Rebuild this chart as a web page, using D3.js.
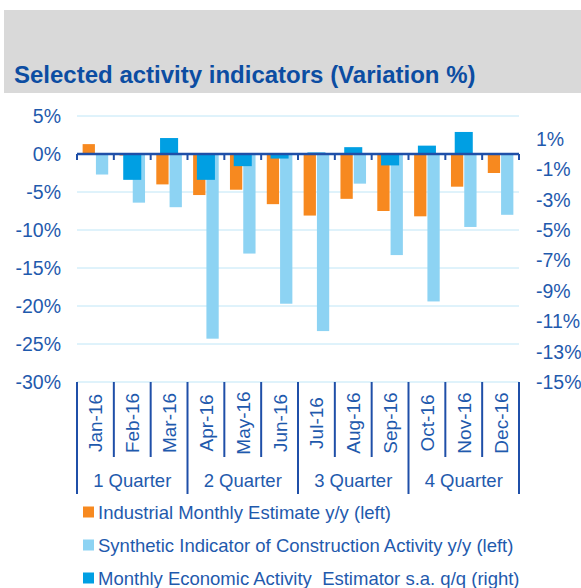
<!DOCTYPE html>
<html>
<head>
<meta charset="UTF-8">
<style>
  body { margin: 0; background: #fff; }
  text { font-family: "Liberation Sans", Arial, sans-serif; fill: #1f5aad; white-space: pre; }
</style>
</head>
<body>
<svg></svg>
<script src="https://d3js.org/d3.v7.min.js"></script>
<script>
let width = 581, height = 588;

// data
const months = ["Jan-16","Feb-16","Mar-16","Apr-16","May-16","Jun-16","Jul-16","Aug-16","Sep-16","Oct-16","Nov-16","Dec-16"];
const quarters = ["1 Quarter","2 Quarter","3 Quarter","4 Quarter"];
const industrial = [1.3, -0.2, -4.0, -5.4, -4.7, -6.6, -8.1, -5.9, -7.5, -8.2, -4.3, -2.5];
const construction = [-2.7, -6.4, -7.0, -24.3, -13.1, -19.7, -23.3, -3.9, -13.3, -19.4, -9.6, -8.0];
const igae = [null, -1.7, 1.05, -1.7, -0.8, -0.3, 0.1, 0.45, -0.75, 0.55, 1.45, null];
const leftTicks = [5, 0, -5, -10, -15, -20, -25, -30];
const rightTicks = [1, -1, -3, -5, -7, -9, -11, -13, -15];
const legendNames = ["Industrial Monthly Estimate y/y (left)",
  "Synthetic Indicator of Construction Activity y/y (left)",
  "Monthly Economic Activity  Estimator s.a. q/q (right)"];

const cOrange = "#f7891f", cLight = "#8dd3f3", cDark = "#009fe3", cAxis = "#1f4fa8";

let svg = d3.select("svg").attr("width", width).attr("height", height);

// title band
svg.append("rect").attr("x", 4).attr("y", 10).attr("width", width - 4).attr("height", 83).attr("fill", "#d9d9d9");
svg.append("text").attr("x", 14).attr("y", 83)
  .style("font-size", "24px").style("font-weight", "bold").style("fill", "#0c4da2")
  .text("Selected activity indicators (Variation %)");

let x = d3.scaleBand().domain(months).range([77, 519]).padding(0);
let x1 = d3.scaleBand().domain(["ind", "con"]).range([0, x.bandwidth()]).paddingOuter(0.44);
let y = d3.scaleLinear().domain([-30, 5]).range([382, 116]);
let y2 = d3.scaleLinear().domain([-15, 2.5]).range([382, 116]);

// gridlines
svg.append("g").selectAll("line").data(leftTicks).enter().append("line")
  .attr("x1", 77).attr("x2", 519)
  .attr("y1", d => y(d)).attr("y2", d => y(d))
  .attr("stroke", "#bfe6f7").attr("stroke-width", 1);

// axis labels
svg.append("g").selectAll("text").data(leftTicks).enter().append("text")
  .attr("x", 61).attr("y", d => y(d) + 7)
  .attr("text-anchor", "end").style("font-size", "19.5px")
  .text(d => d + "%");
svg.append("g").selectAll("text").data(rightTicks).enter().append("text")
  .attr("x", 536).attr("y", d => y2(d) + 7)
  .style("font-size", "19.5px")
  .text(d => d + "%");

// primary bars
let bars = svg.append("g");
bars.selectAll(".ind").data(industrial).enter().append("rect")
  .attr("x", (d, i) => x(months[i]) + x1("ind"))
  .attr("width", x1.bandwidth() - 0.5)
  .attr("y", d => y(Math.max(0, d)))
  .attr("height", d => Math.abs(y(d) - y(0)))
  .attr("fill", cOrange);
bars.selectAll(".con").data(construction).enter().append("rect")
  .attr("x", (d, i) => x(months[i]) + x1("con") + 0.5)
  .attr("width", x1.bandwidth() - 0.5)
  .attr("y", d => y(Math.max(0, d)))
  .attr("height", d => Math.abs(y(d) - y(0)))
  .attr("fill", cLight);

// secondary bars (right axis)
let bw2 = x.bandwidth() * 0.49;
bars.selectAll(".igae").data(igae.map((v, i) => ({m: months[i], v: v})).filter(d => d.v !== null))
  .enter().append("rect")
  .attr("x", d => x(d.m) + x.bandwidth() / 2 - bw2 / 2)
  .attr("width", bw2)
  .attr("y", d => y2(Math.max(0, d.v)))
  .attr("height", d => Math.abs(y2(d.v) - y2(0)))
  .attr("fill", cDark);

// zero line with ticks
svg.append("line").attr("x1", 77).attr("x2", 519).attr("y1", y(0)).attr("y2", y(0))
  .attr("stroke", cAxis).attr("stroke-width", 2.5);
let bounds = months.map(m => x(m)).concat([519]);
svg.append("g").selectAll("line").data(bounds).enter().append("line")
  .attr("x1", d => d).attr("x2", d => d)
  .attr("y1", y(0)).attr("y2", y(0) + 6)
  .attr("stroke", cAxis).attr("stroke-width", 2);

// category axis below
svg.append("g").selectAll("line").data(bounds).enter().append("line")
  .attr("x1", d => d).attr("x2", d => d)
  .attr("y1", 382).attr("y2", (d, i) => i % 3 === 0 ? 494 : 457)
  .attr("stroke", cAxis).attr("stroke-width", 2);

svg.append("g").selectAll("text").data(months).enter().append("text")
  .attr("transform", d => "translate(" + (x(d) + x.bandwidth() / 2 + 7) + ",423) rotate(-90)")
  .attr("text-anchor", "middle").style("font-size", "19px")
  .text(d => d);

svg.append("g").selectAll("text").data(quarters).enter().append("text")
  .attr("x", (d, i) => (x(months[i * 3]) + x(months[i * 3 + 2]) + x.bandwidth()) / 2)
  .attr("y", 487)
  .attr("text-anchor", "middle").style("font-size", "18.5px")
  .text(d => d);

// legend
let legColors = [cOrange, cLight, cDark];
let leg = svg.append("g").selectAll("g").data(legendNames).enter().append("g")
  .attr("transform", (d, i) => "translate(83," + (512 + i * 33) + ")");
leg.append("rect").attr("x", 0).attr("y", -5.5).attr("width", 11).attr("height", 11)
  .attr("fill", (d, i) => legColors[i]);
leg.append("text").attr("x", 15).attr("y", 7).style("font-size", "18.5px").text(d => d);
</script>
</body>
</html>
